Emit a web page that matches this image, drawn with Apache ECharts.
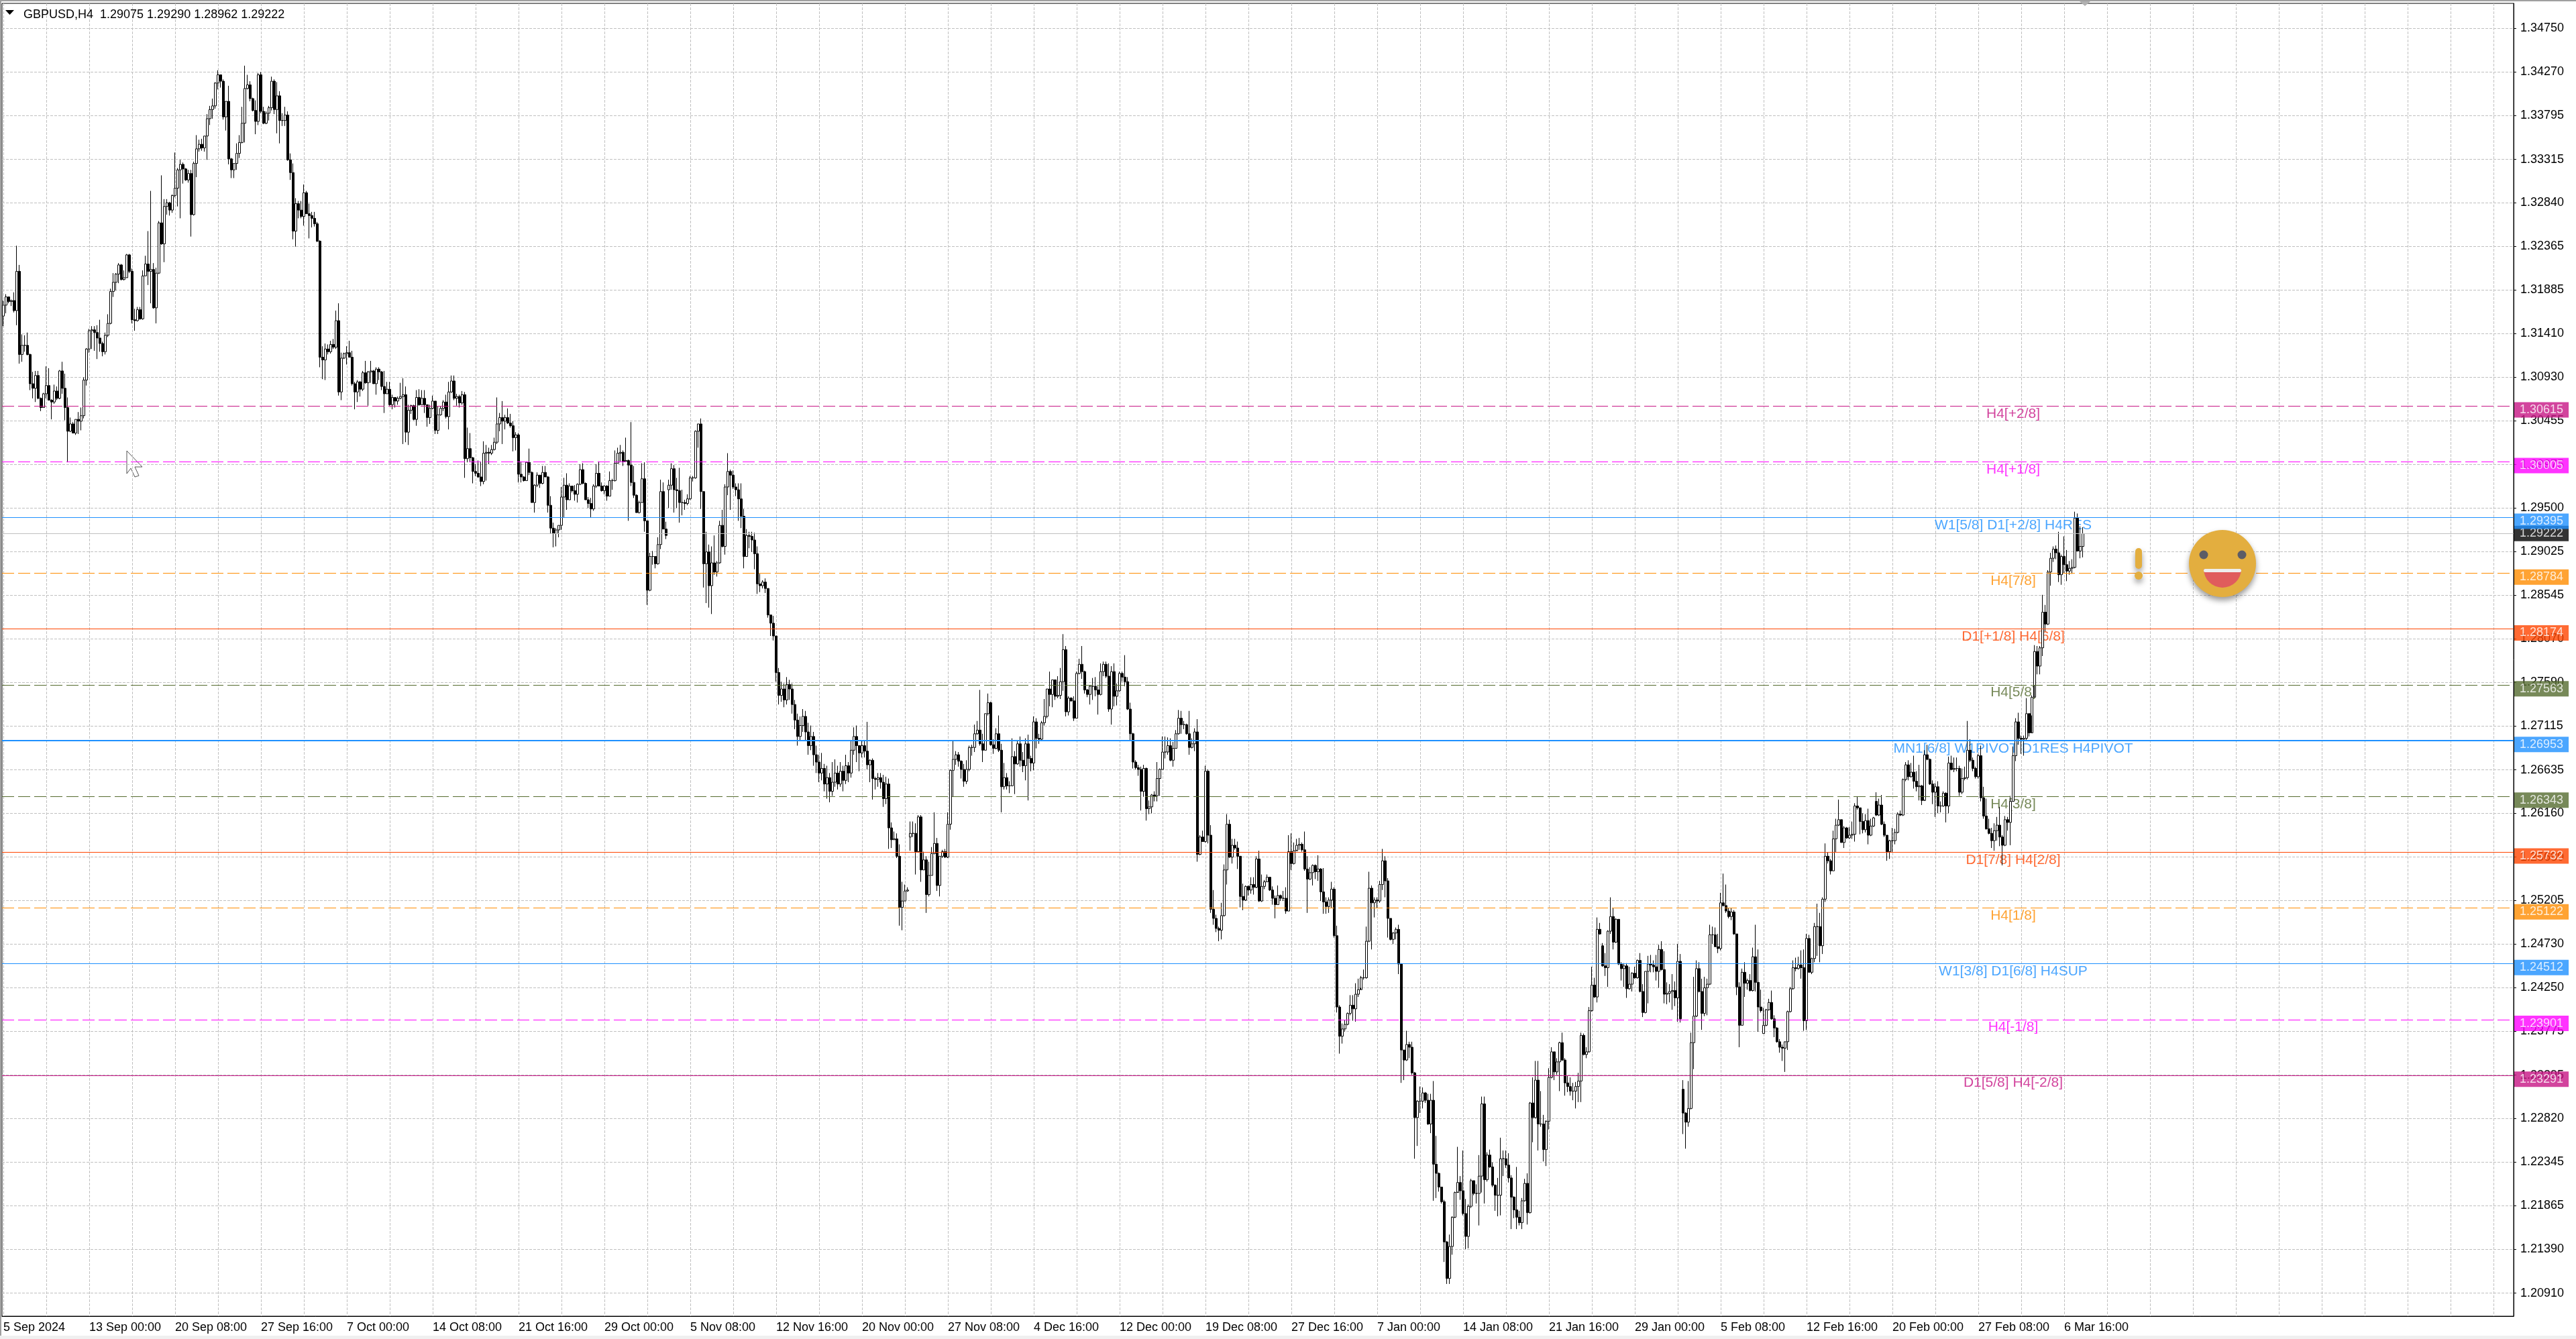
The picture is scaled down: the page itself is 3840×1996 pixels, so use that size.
<!DOCTYPE html>
<html>
<head>
<meta charset="utf-8">
<title>GBPUSD,H4</title>
<script src="https://cdn.jsdelivr.net/npm/echarts@6/dist/echarts.min.js"></script>
<style>
    html, body { margin: 0; padding: 0; background: #fff; }
    #chart { width: 3840px; height: 1996px; }
</style>
</head>
<body>
<div id="chart"></div>
<script>
// all bar values are in pips above 1.2000
const firstOpen = 1160;
const closes = [
1172,1181,1176,1177,1166,1209,1118,1128,1128,1118,
1086,1081,1095,1070,1060,1075,1084,1068,1066,1078,
1070,1100,1081,1060,1034,1042,1032,1047,1045,1051,
1090,1124,1144,1145,1142,1136,1130,1121,1139,1152,
1187,1197,1206,1216,1200,1202,1227,1209,1156,1155,
1167,1157,1204,1217,1209,1211,1169,1207,1262,1239,
1280,1284,1276,1292,1300,1320,1326,1321,1309,1316,
1271,1327,1343,1348,1344,1357,1376,1386,1390,1415,
1424,1417,1378,1395,1332,1320,1327,1338,1350,1371,
1409,1413,1398,1385,1373,1424,1384,1371,1382,1388,
1417,1386,1401,1374,1374,1380,1331,1317,1253,1283,
1276,1269,1295,1272,1270,1267,1261,1242,1115,1112,
1124,1121,1129,1126,1155,1077,1114,1119,1120,1115,
1086,1077,1088,1080,1098,1087,1099,1100,1086,1102,
1099,1083,1075,1080,1063,1071,1067,1070,1072,1074,
1033,1057,1062,1047,1071,1063,1070,1063,1049,1059,
1067,1035,1052,1059,1066,1050,1077,1089,1070,1072,
1065,1074,1004,1015,1005,990,988,984,979,1010,
1011,1010,1014,1022,1042,1049,1045,1049,1043,1040,
1027,1030,987,984,980,1000,989,956,975,986,
977,989,984,953,928,922,926,931,962,975,
959,974,969,965,976,992,977,959,955,949,
974,988,974,969,974,963,980,980,999,1010,
1011,1001,1002,997,978,964,945,956,982,936,
860,897,897,889,910,968,927,920,975,993,
970,969,956,956,955,960,983,983,1034,1042,
968,889,902,865,890,880,890,931,908,973,
990,986,973,970,960,941,897,920,919,915,
900,867,865,869,862,833,824,810,770,745,
752,740,757,752,735,718,700,712,722,705,
690,700,680,672,660,665,648,655,640,650,
660,648,662,652,668,660,685,700,690,682,
690,684,669,674,654,653,655,650,632,648,
600,587,588,569,513,520,531,532,594,594,
574,612,554,565,527,548,572,583,537,569,
574,568,604,663,675,680,673,664,651,664,
688,688,703,707,692,685,725,737,691,687,
703,685,645,655,646,646,678,670,692,674,
668,692,676,671,716,698,697,715,722,752,
746,762,744,745,760,795,727,742,739,720,
769,779,771,751,746,755,755,751,746,771,
779,766,730,771,744,750,769,765,760,730,
703,672,666,664,640,665,621,623,636,635,
654,664,683,683,690,674,687,703,720,713,
713,703,688,692,705,571,590,585,662,592,
511,501,490,488,504,554,604,568,581,578,
569,525,521,536,532,538,535,566,520,536,
541,546,532,523,516,526,523,523,509,574,
561,575,581,582,576,555,544,551,559,552,
555,530,519,514,521,533,482,404,372,380,
385,397,406,402,418,423,436,436,476,534,
518,521,520,538,564,542,501,478,485,489,
451,357,346,363,360,332,283,301,301,310,
302,276,302,232,222,207,191,147,107,142,
174,201,212,203,178,153,186,214,200,200,
219,298,215,242,229,209,198,198,238,238,
231,217,196,182,174,168,192,211,179,299,
283,324,276,276,248,279,327,355,333,344,
365,346,321,317,312,312,317,323,373,352,
355,400,428,415,489,484,449,447,487,503,
475,500,451,446,449,424,429,441,436,455,
421,398,443,451,450,448,443,467,445,418,
419,421,422,414,454,391,288,278,293,365,
394,446,421,397,425,429,483,483,470,468,
518,515,509,503,508,484,426,384,442,430,
433,422,459,431,404,400,384,401,409,391,
381,366,360,359,366,399,424,447,446,450,
447,389,479,442,457,492,492,471,522,569,
564,553,588,603,609,584,600,589,592,593,
624,622,607,598,608,592,602,611,614,625,
604,592,574,586,586,595,615,614,653,669,
656,661,651,645,646,630,680,675,648,639,
645,624,624,638,624,671,664,665,665,639,
654,655,685,674,665,656,679,633,613,599,
594,586,597,603,590,581,609,606,629,679,
716,698,697,698,725,704,743,793,777,797,
836,823,880,895,905,901,877,897,888,881,
884,885,939,903,908,922
];
const highs = [
1177,1184,1180,1178,1186,1237,1216,1140,1139,1142,
1119,1099,1100,1100,1071,1076,1105,1103,1069,1085,
1083,1101,1110,1097,1071,1049,1044,1047,1055,1060,
1093,1125,1146,1149,1149,1150,1156,1132,1142,1162,
1190,1207,1207,1218,1217,1210,1228,1228,1212,1168,
1170,1170,1210,1226,1253,1297,1218,1213,1264,1314,
1288,1288,1285,1293,1339,1322,1331,1328,1322,1320,
1320,1329,1358,1353,1354,1357,1381,1390,1398,1416,
1429,1424,1419,1395,1412,1333,1327,1349,1358,1389,
1434,1424,1417,1399,1396,1426,1427,1389,1384,1390,
1422,1419,1416,1406,1382,1389,1384,1338,1327,1289,
1286,1286,1304,1297,1283,1274,1274,1263,1243,1127,
1130,1129,1133,1135,1166,1174,1120,1120,1127,1133,
1122,1088,1090,1089,1100,1111,1100,1111,1101,1104,
1104,1100,1100,1088,1088,1074,1071,1072,1087,1092,
1083,1063,1063,1063,1079,1080,1079,1079,1063,1063,
1073,1067,1061,1061,1068,1074,1088,1095,1095,1075,
1074,1078,1077,1038,1032,1006,998,1002,1001,1023,
1019,1016,1019,1027,1071,1054,1067,1052,1059,1053,
1045,1033,1032,1001,985,1001,1015,990,976,989,
986,996,996,985,963,934,928,931,973,983,
988,977,973,975,977,998,999,978,962,961,
976,998,1001,978,975,975,990,982,1013,1016,
1019,1013,1027,1003,1044,996,965,958,999,1000,
936,901,903,897,918,981,978,935,981,999,
997,983,994,970,959,965,985,985,1035,1042,
1048,968,924,910,908,920,892,936,948,976,
1010,992,991,977,977,977,949,927,924,924,
923,908,878,871,873,862,833,832,810,775,
760,758,765,762,758,740,725,722,730,728,
715,712,705,690,680,682,670,668,660,672,
675,668,672,668,680,672,695,710,712,686,
696,696,716,675,676,656,660,660,658,656,
654,606,596,594,582,541,538,535,607,607,
605,614,614,574,569,563,579,617,589,569,
576,577,617,664,695,684,683,674,670,674,
690,691,713,717,751,703,725,747,738,697,
709,723,692,671,660,651,698,684,695,700,
683,698,702,679,722,720,703,717,741,752,
771,762,761,766,775,812,799,744,743,744,
771,785,799,772,752,756,764,765,755,780,
782,782,780,777,780,758,771,771,789,765,
737,704,674,669,667,669,666,630,637,640,
672,665,700,700,699,698,694,707,729,728,
717,714,728,698,709,719,592,597,668,664,
603,532,505,492,518,560,615,609,588,588,
585,569,539,537,537,546,546,569,575,549,
543,549,546,536,526,537,527,531,535,592,
594,584,588,589,584,596,569,557,560,560,
570,556,556,524,524,541,535,493,406,386,
390,398,417,417,430,435,438,445,492,552,
537,524,524,542,577,569,545,501,486,491,
494,452,357,378,366,366,333,302,317,316,
311,309,309,323,263,223,203,193,148,155,
175,202,251,219,247,194,188,216,212,210,
242,306,306,245,248,234,210,217,261,247,
247,244,220,197,229,181,195,216,222,300,
327,345,345,312,286,280,337,360,352,348,
366,376,348,329,327,321,322,332,376,375,
360,404,448,436,502,496,474,463,488,524,
512,501,499,453,452,452,448,442,448,456,
463,429,443,460,461,455,461,472,476,465,
431,429,440,432,473,462,324,289,323,376,
437,455,453,435,437,435,494,492,491,484,
529,550,538,512,512,510,484,431,446,453,
435,440,469,494,467,423,403,402,413,422,
395,382,369,363,366,400,426,455,458,459,
466,467,484,483,458,496,517,507,524,583,
573,566,597,610,631,609,602,601,601,607,
627,634,622,616,615,621,610,612,639,632,
636,607,592,587,600,599,617,619,654,672,
674,671,679,662,669,647,685,691,676,652,
649,651,629,640,639,678,679,677,677,668,
665,667,717,697,677,667,681,690,645,632,
610,600,605,612,623,592,613,612,635,689,
720,726,701,701,742,725,745,800,799,799,
855,844,882,901,908,909,924,899,919,904,
892,894,946,944,930,929
];
const lows = [
1149,1163,1174,1171,1164,1150,1108,1110,1121,1117,
1079,1070,1066,1069,1056,1060,1070,1068,1047,1064,
1068,1069,1075,1046,1000,1033,1032,1030,1031,1035,
1048,1084,1120,1124,1122,1113,1121,1116,1118,1137,
1151,1181,1188,1196,1199,1199,1202,1207,1152,1144,
1154,1156,1156,1204,1194,1174,1168,1152,1206,1238,
1219,1271,1270,1273,1290,1280,1267,1305,1308,1306,
1247,1270,1312,1340,1341,1340,1331,1369,1376,1387,
1408,1410,1375,1363,1326,1311,1311,1320,1333,1349,
1350,1408,1395,1384,1359,1369,1382,1370,1370,1374,
1385,1381,1360,1349,1368,1368,1330,1309,1244,1236,
1267,1267,1259,1272,1245,1257,1258,1241,1104,1091,
1090,1118,1119,1124,1124,1073,1068,1113,1107,1115,
1084,1058,1066,1072,1078,1086,1062,1087,1086,1074,
1090,1079,1054,1075,1062,1058,1060,1063,1069,1020,
1022,1019,1053,1046,1040,1062,1063,1054,1039,1042,
1058,1031,1031,1051,1056,1048,1036,1076,1068,1062,
1060,1063,983,1000,1001,977,985,983,974,976,
980,998,1008,1013,1020,1034,1020,1036,1042,1038,
1012,1013,978,978,979,980,986,956,945,973,
972,976,984,945,922,907,908,918,926,940,
948,959,967,958,956,975,976,959,950,940,
947,972,974,968,965,958,963,970,979,999,
1001,996,1001,936,974,961,945,944,956,924,
844,859,888,884,888,905,927,916,950,970,
945,950,934,942,948,953,959,979,982,1016,
949,863,846,841,834,877,875,889,907,899,
964,948,971,963,936,928,884,897,906,902,
883,856,858,862,857,830,810,805,760,735,
738,732,735,740,725,708,690,695,705,695,
680,685,668,660,650,652,640,632,628,635,
645,642,645,640,648,650,655,680,672,662,
677,677,664,650,631,642,645,643,623,626,
577,578,587,567,493,488,520,530,575,590,
549,574,541,554,507,525,548,571,531,525,
567,567,567,598,634,669,667,654,645,648,
662,679,683,702,690,672,685,723,690,681,
686,683,617,642,642,638,646,637,669,667,
661,652,630,662,663,687,692,695,712,720,
733,732,740,742,741,750,722,723,738,717,
720,768,763,747,743,735,740,744,724,745,
766,764,727,713,733,734,749,760,755,729,
695,665,664,657,619,634,608,615,616,629,
629,635,664,676,680,673,667,687,702,703,
708,702,680,687,684,563,570,585,584,583,
507,494,486,476,478,503,538,567,561,576,
555,513,510,520,526,528,527,534,519,519,
533,541,531,516,501,516,520,520,506,509,
554,560,576,576,574,553,507,543,537,544,
542,520,506,506,507,512,480,398,353,364,
377,384,395,389,388,415,425,434,435,475,
467,502,512,518,532,524,480,477,473,478,
440,321,324,345,348,330,238,252,288,293,
299,275,266,192,195,202,189,125,101,101,
133,173,202,193,176,139,140,184,198,189,
165,201,189,213,228,207,181,175,176,219,
228,212,161,173,161,165,161,191,166,178,
256,282,247,273,235,230,270,326,324,330,
312,345,307,311,307,302,293,300,300,351,
348,354,399,414,409,483,448,438,426,484,
467,474,450,433,426,414,423,421,435,435,
420,393,397,408,442,442,433,425,444,408,
407,409,401,405,388,387,265,249,273,292,
336,393,420,379,394,395,428,473,470,463,
466,514,507,501,499,483,417,360,384,415,
423,421,421,421,377,398,375,383,400,390,
371,365,354,345,333,357,398,423,443,445,
435,378,379,442,440,453,460,453,462,519,
561,549,553,573,602,584,578,588,588,588,
585,620,593,594,595,582,591,601,613,613,
603,590,564,566,573,582,594,613,613,651,
652,655,643,640,630,625,631,674,647,626,
612,616,617,623,606,616,663,661,662,635,
637,652,653,672,662,654,654,629,610,598,
593,578,575,586,580,559,580,597,581,629,
673,691,681,679,696,700,723,756,768,768,
788,815,822,865,891,894,869,866,879,870,
877,878,884,903,895,896
];
// bars that do not open on the previous close (weekend gaps)
const gapOpens = { 248: 970, 338: 590, 596: 471, 626: 314, 656: 375, 698: 629 };

const priceTicks = [
1.34750,1.34270,1.33795,1.33315,1.32840,1.32365,1.31885,1.31410,1.30930,1.30455,
1.29975,1.29500,1.29025,1.28545,1.28070,1.27590,1.27115,1.26635,1.26160,1.25680,
1.25205,1.24730,1.24250,1.23775,1.23295,1.22820,1.22345,1.21865,1.21390,1.20910
];
const timeLabels = [
'5 Sep 2024','13 Sep 00:00','20 Sep 08:00','27 Sep 16:00','7 Oct 00:00','14 Oct 08:00','21 Oct 16:00',
'29 Oct 00:00','5 Nov 08:00','12 Nov 16:00','20 Nov 00:00','27 Nov 08:00','4 Dec 16:00','12 Dec 00:00',
'19 Dec 08:00','27 Dec 16:00','7 Jan 00:00','14 Jan 08:00','21 Jan 16:00','29 Jan 00:00','5 Feb 08:00',
'12 Feb 16:00','20 Feb 00:00','27 Feb 08:00','6 Mar 16:00'
];

const levelPrices = [1.30615,1.30005,1.29395,1.28784,1.28174,1.27563,1.26953,1.26343,1.25732,1.25122,1.24512,1.23901,1.23291];
const levelNames = [
'H4[+2/8]','H4[+1/8]','W1[5/8] D1[+2/8] H4RES','H4[7/8]','D1[+1/8] H4[6/8]','H4[5/8]',
'MN1[6/8] W1PIVOT D1RES H4PIVOT','H4[3/8]','D1[7/8] H4[2/8]','H4[1/8]','W1[3/8] D1[6/8] H4SUP','H4[-1/8]','D1[5/8] H4[-2/8]'
];
const levelColors = ['#C71585','#FF00FF','#1E90FF','#FF8C00','#FF4500','#556B2F','#1E90FF','#556B2F','#FF4500','#FF8C00','#1E90FF','#FF00FF','#C71585'];
const levelDashed = [true,true,false,true,false,true,false,true,false,true,false,true,false];
const levelWidths = [1,1,1,1,1,1,2,1,1,1,1,1,1];
const lastPrice = 1.29222;

const barCount = 936;   // slots on the time axis, the right part stays empty
const nameSlot = 749;   // the level names sit around this bar
const fontName = '"Liberation Sans", Arial, sans-serif';

const toPrice = (v) => 1.2 + v / 10000;

const candles = closes.map((c, i) => {
    let open = i === 0 ? firstOpen : closes[i - 1];
    if (gapOpens[i] !== undefined) {
        open = gapOpens[i];
    }
    return [toPrice(open), toPrice(c), toPrice(lows[i]), toPrice(highs[i])];
});

const categories = [];
for (let i = 0; i < barCount; i++) {
    categories.push(i % 32 === 0 && timeLabels[i / 32] ? timeLabels[i / 32] : '');
}

const shadow = { shadowBlur: 8, shadowOffsetY: 5, shadowColor: 'rgba(0,0,0,0.4)' };

const chart = echarts.init(document.getElementById('chart'), null, { renderer: 'canvas' });
chart.setOption({
    animation: false,
    backgroundColor: '#fff',
    title: {
        text: 'GBPUSD,H4  1.29075 1.29290 1.28962 1.29222',
        left: 30,
        top: 8,
        textStyle: { fontFamily: fontName, fontSize: 18, fontWeight: 'normal', color: '#000' }
    },
    grid: {
        left: 3, right: 93, top: 5, bottom: 34,
        show: true, borderColor: '#000', borderWidth: 1, backgroundColor: '#fff'
    },
    xAxis: {
        type: 'category',
        data: categories,
        axisLine: { lineStyle: { color: '#000', width: 1 } },
        axisTick: {
            alignWithLabel: true,
            length: 4,
            interval: (i) => i % 32 === 0 && i <= 768,
            lineStyle: { color: '#000' }
        },
        axisLabel: {
            interval: (i) => i % 32 === 0 && i <= 768,
            align: 'left',
            margin: 8,
            color: '#000',
            fontFamily: fontName,
            fontSize: 18
        },
        splitLine: {
            show: true,
            alignWithLabel: true,
            interval: (i) => i % 16 === 0,
            lineStyle: { color: '#C0C0C0', type: [4, 2] }
        }
    },
    yAxis: {
        type: 'value',
        position: 'right',
        min: 1.20657,
        max: 1.35022,
        axisLine: { show: true, lineStyle: { color: '#000', width: 1 } },
        axisTick: { show: true, length: 4, customValues: priceTicks, lineStyle: { color: '#000' } },
        axisLabel: {
            customValues: priceTicks,
            margin: 10,
            padding: [2, 0, 0, 0],
            color: '#000',
            fontFamily: fontName,
            fontSize: 18,
            formatter: (v) => v.toFixed(5)
        },
        splitLine: { show: true, lineStyle: { color: '#C0C0C0', type: [4, 2] } }
    },
    series: [
        {
            name: 'level names',
            type: 'scatter',
            z: 1,
            silent: true,
            symbolSize: 0,
            data: levelPrices.map((p, i) => ({
                name: levelNames[i],
                value: [nameSlot, p],
                label: { color: levelColors[i] }
            })),
            label: {
                show: true,
                position: 'bottom',
                distance: 1,
                fontFamily: fontName,
                fontSize: 21,
                formatter: '{b}'
            }
        },
        {
            name: 'GBPUSD',
            type: 'candlestick',
            z: 2,
            large: false,
            barWidth: 3,
            silent: true,
            data: candles,
            itemStyle: {
                color: '#fff',
                color0: '#000',
                borderColor: '#000',
                borderColor0: '#000',
                borderWidth: 1
            }
        },
        {
            id: 'levels',
            name: 'levels',
            type: 'scatter',
            z: 3,
            silent: true,
            symbolSize: 0,
            data: []
        },
        {
            name: 'last price',
            type: 'scatter',
            z: 9,
            silent: true,
            symbolSize: 0,
            data: [[barCount - 1, lastPrice]],
            label: {
                show: true,
                position: 'right',
                distance: 3,
                offset: [0, 0],
                color: '#fff',
                backgroundColor: '#000',
                padding: [2, 8, 2, 8],
                lineHeight: 19,
                fontFamily: fontName,
                fontSize: 18,
                formatter: (p) => p.value[1].toFixed(5)
            }
        },
        {
            name: 'level prices',
            type: 'scatter',
            z: 10,
            silent: true,
            symbolSize: 0,
            data: levelPrices.map((p, i) => ({
                value: [barCount - 1, p],
                label: { backgroundColor: levelColors[i] }
            })),
            label: {
                show: true,
                position: 'right',
                distance: 3,
                offset: [0, 5.5],
                color: '#fff',
                padding: [2, 8, 2, 8],
                lineHeight: 19,
                fontFamily: fontName,
                fontSize: 18,
                formatter: (p) => p.value[1].toFixed(5)
            }
        }
    ],
    graphic: [
        { type: 'rect', shape: { x: 0, y: 0, width: 3840, height: 2 }, style: { fill: '#A0A0A0' } },
        { type: 'rect', shape: { x: 0, y: 0, width: 2, height: 1996 }, style: { fill: '#A0A0A0' } },
        { type: 'rect', shape: { x: 0, y: 1991, width: 3840, height: 5 }, style: { fill: '#F0F0F0' } },
        { type: 'polygon', shape: { points: [[8, 15], [21, 15], [14.5, 22]] }, style: { fill: '#000' } },
        { type: 'polygon', shape: { points: [[3100, 2], [3116, 2], [3108, 9]] }, style: { fill: '#B0B0B0' } },
        // mouse pointer
        {
            type: 'polygon',
            shape: { points: [[189, 672], [212, 696], [201, 696], [207, 709], [201, 711], [195, 698], [189, 706]] },
            style: { fill: '#fff', stroke: '#555', lineWidth: 1 }
        },
        // exclamation mark
        { type: 'rect', z: 20, shape: { x: 3183, y: 817, width: 10, height: 31, r: 5 }, style: Object.assign({ fill: '#E3AE3F' }, shadow) },
        { type: 'circle', z: 20, shape: { cx: 3188, cy: 858, r: 6 }, style: Object.assign({ fill: '#E3AE3F' }, shadow) },
        // smiley
        { type: 'circle', z: 20, shape: { cx: 3313, cy: 840, r: 50 }, style: Object.assign({ fill: '#E3AE3F' }, shadow) },
        { type: 'circle', z: 21, shape: { cx: 3285, cy: 827, r: 6.5 }, style: { fill: '#5C5C66' } },
        { type: 'circle', z: 21, shape: { cx: 3342, cy: 827, r: 6.5 }, style: { fill: '#5C5C66' } },
        { type: 'sector', z: 21, shape: { cx: 3313, cy: 848, r: 28, startAngle: 0, endAngle: Math.PI }, style: { fill: '#E05C5C' } },
        { type: 'rect', z: 22, shape: { x: 3285, y: 848, width: 56, height: 5, r: 2 }, style: { fill: '#EEEEEE' } }
    ]
});

// nudge each level onto a whole pixel row so the thin lines stay crisp
const snapPrice = (p, width) => {
    const y = chart.convertToPixel({ yAxisIndex: 0 }, p);
    const row = width % 2 === 1 ? Math.floor(y) + 0.5 : Math.round(y);
    return chart.convertFromPixel({ yAxisIndex: 0 }, row);
};
const levelLines = levelPrices.map((p, i) => ({
    yAxis: snapPrice(p, levelWidths[i]),
    lineStyle: {
        color: levelColors[i],
        width: levelWidths[i],
        type: levelDashed[i] ? [18, 6] : 'solid',
        opacity: 1
    }
}));
levelLines.unshift({
    yAxis: snapPrice(lastPrice, 1),
    lineStyle: { color: '#C0C0C0', width: 1, type: 'solid', opacity: 1 }
});
chart.setOption({
    series: [{
        id: 'levels',
        markLine: {
            silent: true,
            symbol: 'none',
            precision: 10,
            animation: false,
            label: { show: false },
            emphasis: { disabled: true },
            data: levelLines
        }
    }]
});
</script>
</body>
</html>
